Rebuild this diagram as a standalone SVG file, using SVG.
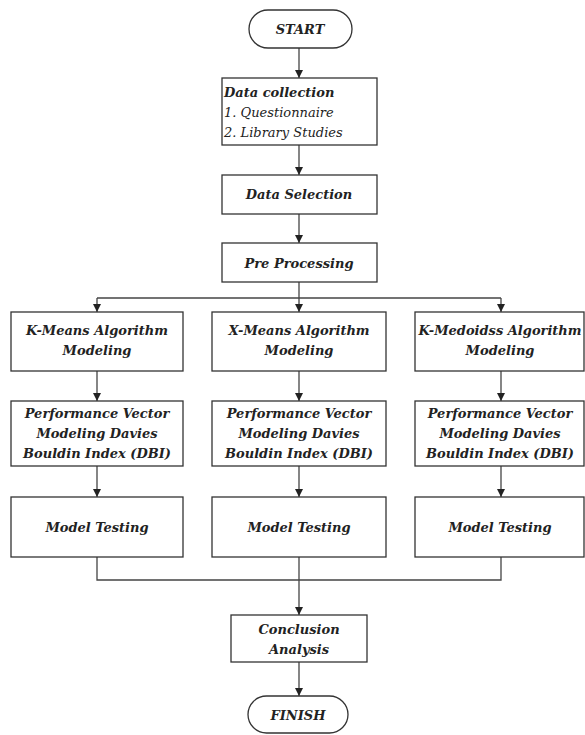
<svg xmlns="http://www.w3.org/2000/svg" width="585" height="735" viewBox="0 0 585 735">
<defs>
<marker id="arr" viewBox="0 0 10 10" refX="10" refY="5" markerWidth="8" markerHeight="8" markerUnits="userSpaceOnUse" orient="auto">
<path d="M0,0 L10,5 L0,10 z" fill="#222"/>
</marker>
<style>
.box{fill:#fff;stroke:#333;stroke-width:1.3}
.t{font-family:"DejaVu Serif","Liberation Serif",serif;font-weight:bold;font-style:italic;font-size:13px;fill:#222;text-anchor:middle}
.tl{font-family:"DejaVu Serif","Liberation Serif",serif;font-style:italic;font-size:13px;fill:#222}
.c{fill:none;stroke:#444;stroke-width:1.3}
</style>
</defs>
<rect width="585" height="735" fill="#fff"/>
<g id="connectors">
<path class="c" d="M299,48 V78" marker-end="url(#arr)"/>
<path class="c" d="M299,145 V175" marker-end="url(#arr)"/>
<path class="c" d="M299,214 V243" marker-end="url(#arr)"/>
<path class="c" d="M299,282 V312" marker-end="url(#arr)"/>
<path class="c" d="M97,298 H501"/>
<path class="c" d="M97,298 V312" marker-end="url(#arr)"/>
<path class="c" d="M501,298 V312" marker-end="url(#arr)"/>
<path class="c" d="M97,371 V401" marker-end="url(#arr)"/>
<path class="c" d="M299,371 V401" marker-end="url(#arr)"/>
<path class="c" d="M501,371 V401" marker-end="url(#arr)"/>
<path class="c" d="M97,466 V497" marker-end="url(#arr)"/>
<path class="c" d="M299,466 V497" marker-end="url(#arr)"/>
<path class="c" d="M501,466 V497" marker-end="url(#arr)"/>
<path class="c" d="M97,557 V580 H501 V557"/>
<path class="c" d="M299,557 V615" marker-end="url(#arr)"/>
<path class="c" d="M299,662 V696" marker-end="url(#arr)"/>
</g>
<g id="start">
<rect class="box" x="249" y="10" width="103" height="38" rx="19"/>
<text class="t" x="300" y="34">START</text>
</g>
<g id="data-collection">
<rect class="box" x="222" y="78" width="155" height="67"/>
<text class="tl" x="224" y="97" font-weight="bold">Data collection</text>
<text class="tl" x="224" y="117">1. Questionnaire</text>
<text class="tl" x="224" y="137">2. Library Studies</text>
</g>
<g id="data-selection">
<rect class="box" x="222" y="175" width="155" height="39"/>
<text class="t" x="299" y="199">Data Selection</text>
</g>
<g id="pre-processing">
<rect class="box" x="222" y="243" width="155" height="39"/>
<text class="t" x="299" y="268">Pre Processing</text>
</g>
<g id="kmeans">
<rect class="box" x="11" y="312" width="172" height="59"/>
<text class="t" x="97" y="335">K-Means Algorithm</text>
<text class="t" x="97" y="355">Modeling</text>
</g>
<g id="xmeans">
<rect class="box" x="212" y="312" width="174" height="59"/>
<text class="t" x="299" y="335">X-Means Algorithm</text>
<text class="t" x="299" y="355">Modeling</text>
</g>
<g id="kmedoids">
<rect class="box" x="415" y="312" width="169" height="59"/>
<text class="t" x="500" y="335">K-Medoidss Algorithm</text>
<text class="t" x="500" y="355">Modeling</text>
</g>
<g id="perf-k">
<rect class="box" x="11" y="401" width="172" height="65"/>
<text class="t" x="97" y="418">Performance Vector</text>
<text class="t" x="97" y="438">Modeling Davies</text>
<text class="t" x="97" y="458">Bouldin Index (DBI)</text>
</g>
<g id="perf-x">
<rect class="box" x="212" y="401" width="174" height="65"/>
<text class="t" x="299" y="418">Performance Vector</text>
<text class="t" x="299" y="438">Modeling Davies</text>
<text class="t" x="299" y="458">Bouldin Index (DBI)</text>
</g>
<g id="perf-m">
<rect class="box" x="415" y="401" width="169" height="65"/>
<text class="t" x="500" y="418">Performance Vector</text>
<text class="t" x="500" y="438">Modeling Davies</text>
<text class="t" x="500" y="458">Bouldin Index (DBI)</text>
</g>
<g id="test-k">
<rect class="box" x="11" y="497" width="172" height="60"/>
<text class="t" x="97" y="532">Model Testing</text>
</g>
<g id="test-x">
<rect class="box" x="212" y="497" width="174" height="60"/>
<text class="t" x="299" y="532">Model Testing</text>
</g>
<g id="test-m">
<rect class="box" x="415" y="497" width="169" height="60"/>
<text class="t" x="500" y="532">Model Testing</text>
</g>
<g id="conclusion">
<rect class="box" x="231" y="615" width="136" height="47"/>
<text class="t" x="299" y="634">Conclusion</text>
<text class="t" x="299" y="654">Analysis</text>
</g>
<g id="finish">
<rect class="box" x="248" y="696" width="100" height="37" rx="18.5"/>
<text class="t" x="298" y="720">FINISH</text>
</g>
</svg>
